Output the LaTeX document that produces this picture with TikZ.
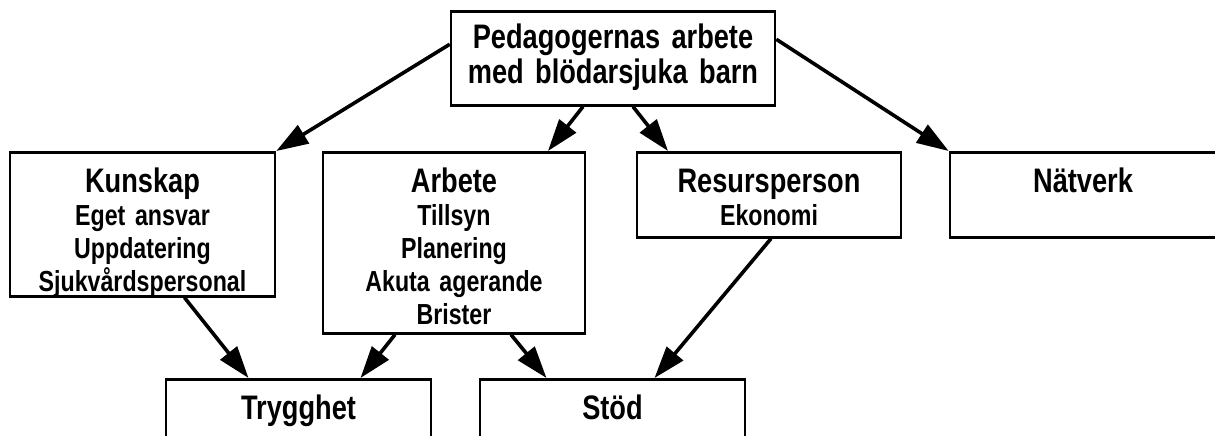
\documentclass[tikz,border=0pt]{standalone}
\usepackage{fontspec}
\setmainfont[FakeStretch=0.8]{Liberation Sans}
\usepackage{tikz}
\usetikzlibrary{arrows.meta}

\newcommand{\boxtitle}[1]{{\fontsize{17}{16.5}\selectfont #1}}

\begin{document}
\begin{tikzpicture}[
    x=0.5pt, y=-0.5pt,
    >={Triangle[length=16pt, width=10.5pt]},
    box/.style={rectangle, draw=black, line width=1.3pt, anchor=north, inner xsep=0pt, inner ysep=0pt, align=center, font=\bfseries\fontsize{14.5}{16.5}\selectfont, text height=20pt},
    arrow/.style={->, line width=1.8pt, draw=black}
]
\useasboundingbox (0,0) rectangle (1215,435);
\clip (0,0) rectangle (1215,435);

% Row 1: main theme
\node[box, text width=162pt, text height=18.5pt, text depth=28.5pt, font=\bfseries\fontsize{17}{17.5}\selectfont] (top) at (613,10) {Pedagogernas arbete\\med blödarsjuka barn};

% Row 2: categories
\node[box, text width=132.5pt, text depth=52pt] (kun) at (142.5,151) {\boxtitle{Kunskap}\\Eget ansvar\\Uppdatering\\Sjukvårdspersonal};
\node[box, text width=131pt, text depth=70.5pt] (arb) at (454,151) {\boxtitle{Arbete}\\Tillsyn\\Planering\\Akuta agerande\\Brister};
\node[box, text width=132pt, text depth=22.5pt] (res) at (769,151) {\boxtitle{Resursperson}\\Ekonomi};
\node[box, text width=133pt, text depth=22.5pt] (nat) at (1083,151) {\boxtitle{Nätverk}};

% Row 3: outcomes
\node[box, text width=132.5pt, text depth=25pt] (try) at (298.5,378) {\boxtitle{Trygghet}};
\node[box, text width=132.5pt, text depth=25pt] (sto) at (612.5,378) {\boxtitle{Stöd}};

% Arrows Row 1 to Row 2
\draw[arrow] ([yshift=7pt]top.west) -- (kun.north east);
\draw[arrow] ([xshift=-15pt]top.south) -- ([xshift=47pt]arb.north);
\draw[arrow] ([xshift=10pt]top.south) -- ([xshift=-50.5pt]res.north);
\draw[arrow] ([yshift=9.5pt]top.east) -- (nat.north west);

% Arrows Row 2 to Row 3
\draw[arrow] ([xshift=21pt]kun.south) -- ([xshift=-25pt]try.north);
\draw[arrow] ([xshift=-29.5pt]arb.south) -- ([xshift=31pt]try.north);
\draw[arrow] ([xshift=28.5pt]arb.south) -- ([xshift=-33pt]sto.north);
\draw[arrow] ([xshift=1pt]res.south) -- ([xshift=21pt]sto.north);

\end{tikzpicture}
\end{document}
